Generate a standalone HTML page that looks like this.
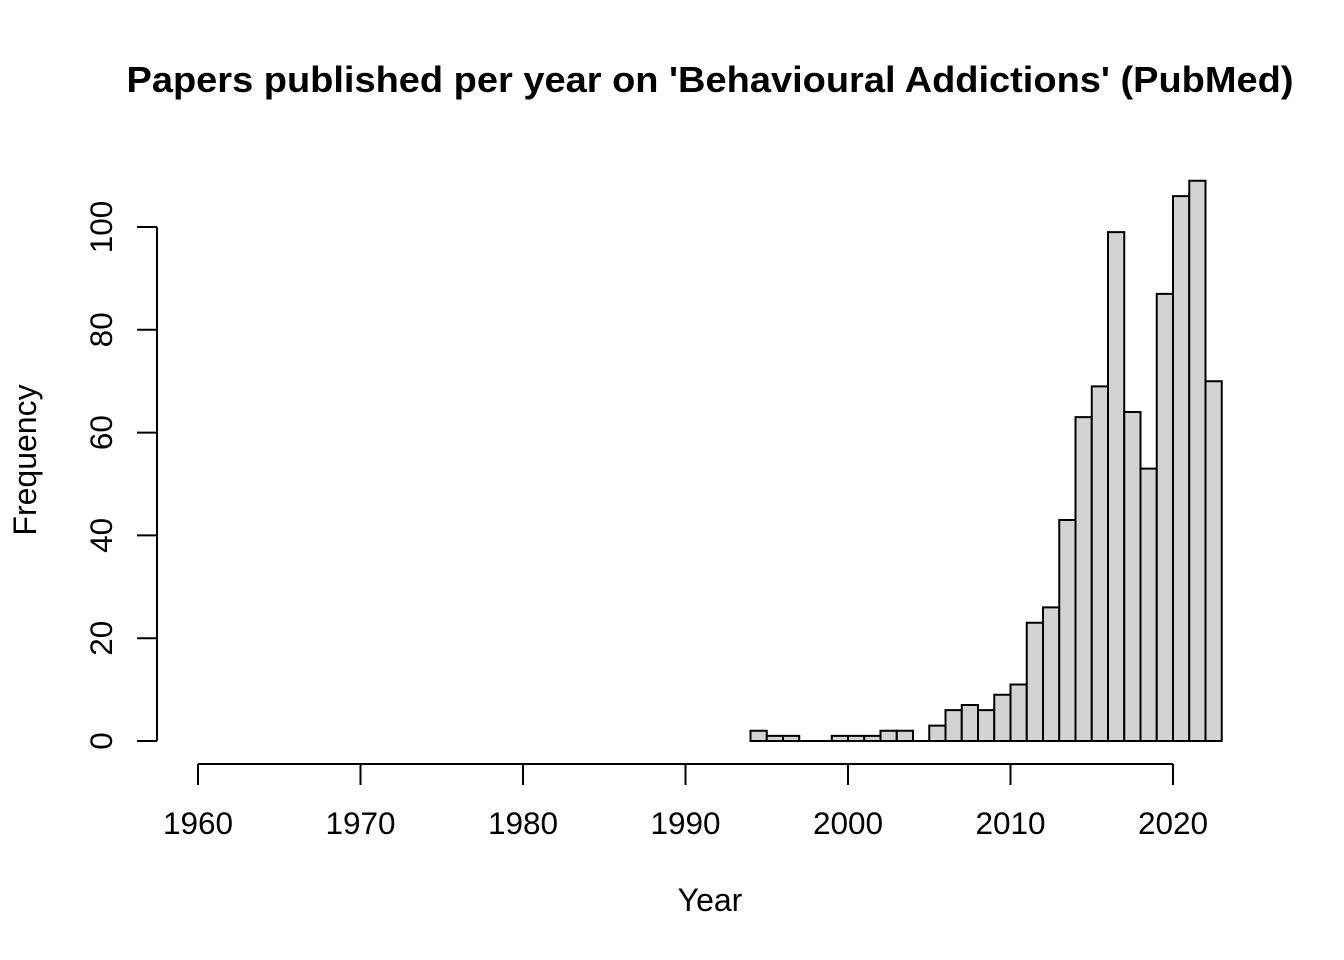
<!DOCTYPE html>
<html><head><meta charset="utf-8"><style>
html,body{margin:0;padding:0;background:#fff;}
svg{display:block;font-family:"Liberation Sans",Arial,sans-serif;}
</style></head><body>
<svg id="chart" width="1344" height="960" viewBox="0 0 1344 960">
<text x="710" y="92" text-anchor="middle" font-size="36" font-weight="bold" textLength="1167" lengthAdjust="spacingAndGlyphs">Papers published per year on 'Behavioural Addictions' (PubMed)</text>
<text x="710" y="911" text-anchor="middle" font-size="32">Year</text>
<text transform="translate(36,460) rotate(-90)" text-anchor="middle" font-size="32">Frequency</text>
<g id="bars"></g>
<g id="xaxis"></g>
<g id="yaxis"></g>
</svg>
<script>
const binStart = 1994;
const counts = [2,1,1,0,0,1,1,1,2,2,0,3,6,7,6,9,11,23,26,43,63,69,99,64,53,87,106,109,70];
const xTicks = [1960,1970,1980,1990,2000,2010,2020];
const yTicks = [0,20,40,60,80,100];
const NS = "http://www.w3.org/2000/svg";
const x = v => 198 + (v - 1960) * (1173 - 198) / 60;
const y = v => 741 - v * (741 - 227) / 100;
function mk(tag, attrs, parent){const e=document.createElementNS(NS,tag);for(const k in attrs)e.setAttribute(k,attrs[k]);parent.appendChild(e);return e;}
const bars=document.getElementById('bars');
counts.forEach((c,i)=>{
  const x0=x(binStart+i), x1=x(binStart+i+1), y0=y(0), y1=y(c);
  const r=mk('path',{d:`M${x0},${y0}L${x0},${y1}L${x1},${y1}L${x1},${y0}Z`,fill:'#d3d3d3',stroke:'#000','stroke-width':2},bars);
  
  
});
const xa=document.getElementById('xaxis');
mk('line',{x1:x(xTicks[0]),x2:x(xTicks[xTicks.length-1]),y1:764,y2:764,stroke:'#000','stroke-width':2},xa);
xTicks.forEach(t=>{
  mk('line',{x1:x(t),x2:x(t),y1:764,y2:785,stroke:'#000','stroke-width':2},xa);
  const tx=mk('text',{x:x(t),y:834,'text-anchor':'middle','font-size':31.5},xa);
  tx.textContent=t;
  
  
});
const ya=document.getElementById('yaxis');
mk('line',{x1:157,x2:157,y1:y(yTicks[0]),y2:y(yTicks[yTicks.length-1]),stroke:'#000','stroke-width':2},ya);
yTicks.forEach(t=>{
  mk('line',{x1:137,x2:157,y1:y(t),y2:y(t),stroke:'#000','stroke-width':2},ya);
  const tx=mk('text',{transform:`translate(112,${y(t)}) rotate(-90)`,'text-anchor':'middle','font-size':31.5},ya);
  tx.textContent=t;
  
  
});
</script>
</body></html>
